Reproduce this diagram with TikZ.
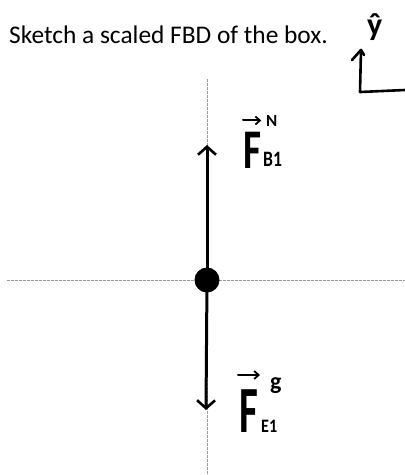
\documentclass[tikz,border=0pt]{standalone}
\usepackage{fontspec}
\setmainfont{Carlito}
\usetikzlibrary{arrows.meta}
\begin{document}
\begin{tikzpicture}[x=1pt,y=-1pt,
  guide/.style={draw=black!40, line width=1pt, dash pattern=on 2.5pt off 1.5pt},
  force/.style={line width=3pt, line cap=round, -{Straight Barb[length=8pt,width=18pt,line width=2.6pt]}},
  pen/.style={line width=2.6pt, line cap=round, line join=round},
  vecarrow/.style={line width=2pt, line cap=round, -{Straight Barb[length=4.5pt,width=8pt,line width=1.8pt]}},
  hand/.style={inner sep=0pt, anchor=base west}]
\useasboundingbox (0,0) rectangle (405,475);
% title
\node[hand, font=\fontsize{25.4}{27}\selectfont] (title) at (9,43) {Sketch a scaled FBD of the box.};
% guide lines
\coordinate (vtop) at (207,79);
\coordinate (vbot) at (207,475);
\coordinate (hl) at (7,280);
\coordinate (hr) at (405,280);
\draw[guide] (vtop) -- (vbot);
\draw[guide] (hl) -- (hr);
% forces
\coordinate (ntip) at (207,145);
\coordinate (gtip) at (206,410);
\draw[force] (207,280) -- (ntip);
\draw[force] (207,280) -- (gtip);
\node[circle, fill=black, minimum size=25pt, inner sep=0pt] (box) at (207,280) {};
% axis icon
\coordinate (ax0) at (360,92);
\coordinate (axy) at (361,50);
\coordinate (axx) at (405,90);
\coordinate (hk1) at (352,60);
\coordinate (hk2) at (364,55);
\draw[pen] (axx) -- (ax0) -- (axy);
\draw[pen] (hk1) -- (axy) -- (hk2);
\node[hand, font=\bfseries\fontsize{32}{32}\selectfont] (yhat) at (367,35) {ŷ};
% label F_B1^N
\node[hand, font=\bfseries\fontsize{56}{56}\selectfont, xscale=0.7] (Fn) at (243,168) {F};
\draw[vecarrow] ([yshift=11pt]Fn.north west) -- ([yshift=11pt]Fn.north east);
\node[hand, font=\bfseries\fontsize{17}{17}\selectfont] (Nsup) at (266,126) {N};
\node[hand, font=\bfseries\fontsize{22}{22}\selectfont, xscale=0.8] (Bsub) at (263,166) {B1};
% label F_E1^g
\node[hand, font=\bfseries\fontsize{66}{66}\selectfont, xscale=0.62] (Fg) at (239,432) {F};
\draw[vecarrow] ([xshift=-1pt,yshift=14pt]Fg.north west) -- ([xshift=2pt,yshift=14pt]Fg.north east);
\node[hand, font=\bfseries\fontsize{24}{24}\selectfont] (gsup) at (270,389) {g};
\node[hand, font=\bfseries\fontsize{19}{19}\selectfont, xscale=0.85] (Esub) at (261,432) {E1};
\end{tikzpicture}
\end{document}
